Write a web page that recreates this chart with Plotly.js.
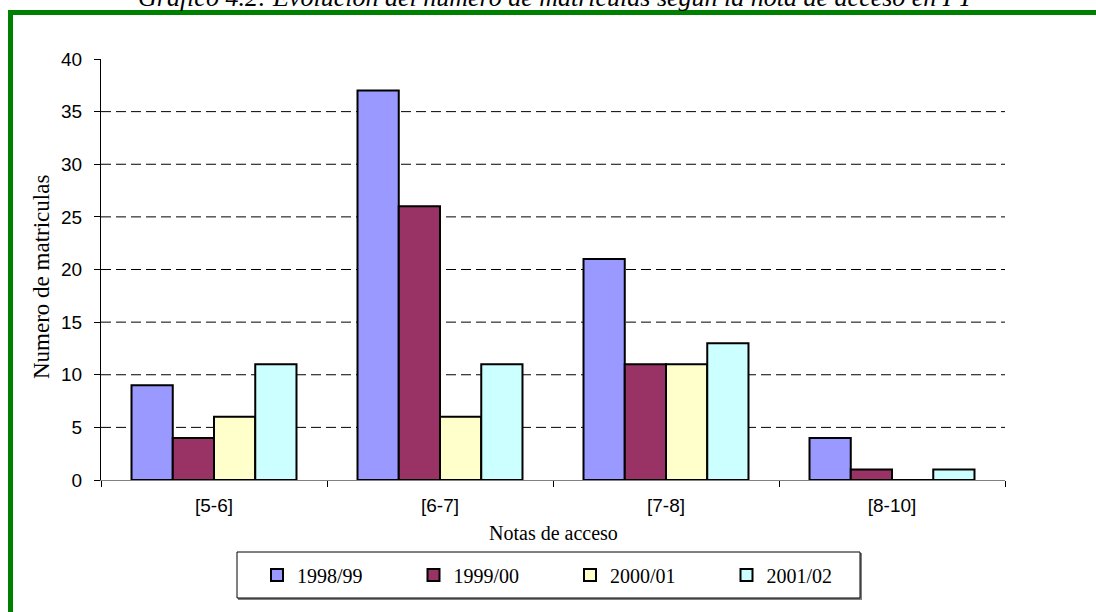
<!DOCTYPE html>
<html>
<head>
<meta charset="utf-8">
<script src="https://cdn.plot.ly/plotly-3.0.1.min.js"></script>
<style>
  html, body { margin: 0; padding: 0; background: #fff; }
  #chart { width: 1096px; height: 612px; }
</style>
</head>
<body>
<div id="chart"></div>
<script>
// ---- Data ----
const categories = ['[5-6]', '[6-7]', '[7-8]', '[8-10]'];
const seriesNames = ['1998/99', '1999/00', '2000/01', '2001/02'];
const values1998 = [9, 37, 21, 4];
const values1999 = [4, 26, 11, 1];
const values2000 = [6, 6, 11, 0];
const values2001 = [11, 11, 13, 1];
const seriesColors = ['#9999FF', '#993366', '#FFFFCC', '#CCFFFF'];
const yTickValues = [0, 5, 10, 15, 20, 25, 30, 35, 40];
const gridValues = [5, 10, 15, 20, 25, 30, 35];

const titleText = 'Gráfico 4.2: Evolución del número de matrículas según la nota de acceso en I T';
const xTitleText = 'Notas de acceso';
const yTitleText = 'Numero de matriculas';

// ---- Layout geometry (pixels) ----
const W = 1096, H = 612;
const mL = 101, mR = 91, mT = 59, mB = 132;
const pw = W - mL - mR, ph = H - mT - mB;
const px = x => (x - mL) / pw;
const py = y => (H - mB - y) / ph;

const allValues = [values1998, values1999, values2000, values2001];
const traces = allValues.map((vals, i) => ({
  type: 'bar',
  name: seriesNames[i],
  x: categories,
  y: vals,
  marker: { color: seriesColors[i], line: { color: '#000000', width: 2 } },
  hoverinfo: 'x+y+name'
}));

const shapes = [];
// dashed gridlines behind the bars
gridValues.forEach(v => {
  shapes.push({
    type: 'line', xref: 'paper', yref: 'y', x0: 0, x1: 1, y0: v, y1: v,
    line: { color: '#000000', width: 1, dash: '10px,5px' }, layer: 'below'
  });
});
// green frame
shapes.push({
  type: 'rect', xref: 'paper', yref: 'paper',
  x0: px(10.5), x1: px(1115), y0: py(12.5), y1: py(640),
  line: { color: '#008000', width: 5 }, fillcolor: 'rgba(0,0,0,0)', layer: 'above'
});
// legend box shadow + box
shapes.push({
  type: 'rect', xref: 'paper', yref: 'paper',
  x0: px(238), x1: px(862), y0: py(600), y1: py(553),
  line: { width: 0 }, fillcolor: '#808080', layer: 'above'
});
shapes.push({
  type: 'rect', xref: 'paper', yref: 'paper',
  x0: px(237), x1: px(860), y0: py(598), y1: py(552),
  line: { color: '#000000', width: 1 }, fillcolor: '#ffffff', layer: 'above'
});

const annotations = [
  {
    text: '<i>' + titleText + '</i>', xref: 'paper', yref: 'paper',
    x: px(556), y: py(-2), xanchor: 'center', yanchor: 'middle', showarrow: false,
    font: { family: 'Liberation Serif, Times New Roman, serif', size: 26, color: '#000' }
  },
  {
    text: xTitleText, xref: 'paper', yref: 'paper',
    x: px(553), y: py(533), xanchor: 'center', yanchor: 'middle', showarrow: false,
    font: { family: 'Liberation Serif, Times New Roman, serif', size: 20, color: '#000' }
  },
  {
    text: yTitleText, xref: 'paper', yref: 'paper', textangle: -90,
    x: px(41), y: py(277), xanchor: 'center', yanchor: 'middle', showarrow: false,
    font: { family: 'Liberation Serif, Times New Roman, serif', size: 23, color: '#000' }
  }
];

const layout = {
  width: W, height: H,
  margin: { l: mL, r: mR, t: mT, b: mB, pad: 0 },
  paper_bgcolor: '#ffffff', plot_bgcolor: '#ffffff',
  barmode: 'group', bargap: 0.27, bargroupgap: 0,
  showlegend: true,
  legend: {
    orientation: 'h', x: px(257), y: py(575), xanchor: 'left', yanchor: 'middle',
    bgcolor: 'rgba(0,0,0,0)', borderwidth: 0,
    entrywidth: 111.5, entrywidthmode: 'pixels',
    font: { family: 'Liberation Serif, Times New Roman, serif', size: 20, color: '#000' },
    itemclick: false, itemdoubleclick: false
  },
  xaxis: {
    type: 'category', categoryarray: categories,
    showline: true, linecolor: '#808080', linewidth: 1,
    ticks: 'outside', tickson: 'boundaries', ticklen: 6, tickcolor: '#000', tickwidth: 1,
    showgrid: false, zeroline: false,
    tickfont: { family: 'Liberation Sans, Arial, sans-serif', size: 19, color: '#000' },
    ticklabelstandoff: 8
  },
  yaxis: {
    range: [0, 40], tickvals: yTickValues, ticktext: yTickValues.map(String),
    showline: true, linecolor: '#000', linewidth: 1,
    ticks: 'outside', ticklen: 6, tickcolor: '#000', tickwidth: 1,
    showgrid: false, zeroline: false,
    tickfont: { family: 'Liberation Sans, Arial, sans-serif', size: 19, color: '#000' },
    ticklabelstandoff: 8
  },
  shapes: shapes,
  annotations: annotations
};

Plotly.newPlot('chart', traces, layout, { displayModeBar: false, staticPlot: true });
</script>
</body>
</html>
